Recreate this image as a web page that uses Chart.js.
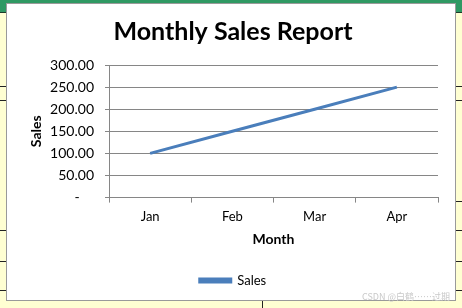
<!DOCTYPE html>
<html><head><meta charset="utf-8">
<script src="https://cdn.jsdelivr.net/npm/chart.js@4"></script>
<style>
html,body{margin:0;padding:0;}
body{width:462px;height:308px;position:relative;overflow:hidden;background:#FFFFD2;}
#green{position:absolute;left:0;top:0;width:462px;height:12px;background:#2F9963;border-bottom:1px solid #1e3b2a;}
.hl{position:absolute;height:1px;background:#222;}
.vl{position:absolute;width:1px;background:#222;}
#box{position:absolute;left:6px;top:3px;width:448px;height:296px;background:#fff;border:1px solid #9a9a9a;}
#c{display:block;}
#wm{position:absolute;left:362px;top:290px;font:9px "Noto Sans CJK SC","Noto Sans",sans-serif;color:#c9c9c9;white-space:nowrap;}
</style></head>
<body>
<div id="green"></div>
<div class="hl" style="left:0;top:86px;width:6px"></div>
<div class="hl" style="left:0;top:100px;width:6px"></div>
<div class="hl" style="left:0;top:230px;width:6px"></div>
<div class="hl" style="left:0;top:261px;width:6px"></div>
<div class="hl" style="left:0;top:290px;width:6px"></div>
<div class="hl" style="left:455px;top:86px;width:7px"></div>
<div class="hl" style="left:455px;top:100px;width:7px"></div>
<div class="hl" style="left:455px;top:201px;width:7px"></div>
<div class="hl" style="left:455px;top:230px;width:7px"></div>
<div class="hl" style="left:455px;top:261px;width:7px"></div>
<div class="hl" style="left:455px;top:290px;width:7px"></div>
<div class="vl" style="left:262px;top:300px;height:8px"></div>
<div id="box"><canvas id="c" width="448" height="296"></canvas></div>
<div id="wm">CSDN @白鹤……过期</div>
<script>
const months = ["Jan","Feb","Mar","Apr"];
const sales = [100,150,200,250];
const yMin = 0, yMax = 300, yStep = 50;

const FONT = "Lato, 'Open Sans', sans-serif";
new Chart(document.getElementById('c'), {
  type: 'line',
  data: {
    labels: months,
    datasets: [{
      label: 'Sales',
      data: sales,
      borderColor: '#4A7EBB',
      backgroundColor: '#4A7EBB',
      borderWidth: 3,
      pointRadius: 0,
      tension: 0
    }]
  },
  options: {
    responsive: false,
    animation: false,
    layout: {padding: {left: 21, right: 17, top: 0, bottom: 3}},
    plugins: {
      title: {
        display: true,
        text: 'Monthly Sales Report',
        color: '#000',
        font: {family: FONT, size: 25, weight: 'bold'},
        padding: {top: 13, bottom: 18}
      },
      legend: {
        position: 'bottom',
        labels: {
          color: '#000',
          font: {family: FONT, size: 13},
          boxWidth: 31,
          boxHeight: 3,
          padding: 10
        }
      },
      tooltip: {enabled: false}
    },
    scales: {
      x: {
        offset: true,
        grid: {offset: true, drawOnChartArea: false, color: '#868686', tickLength: 5},
        border: {color: '#868686'},
        ticks: {color: '#000', font: {family: FONT, size: 13}, padding: 6},
        title: {display: true, text: 'Month', color: '#000', font: {family: FONT, size: 14, weight: 'bold'}, padding: {top: 1, bottom: 16}}
      },
      y: {
        min: yMin, max: yMax,
        grid: {color: '#868686', tickLength: 4},
        border: {color: '#868686'},
        ticks: {
          stepSize: yStep,
          color: '#000',
          font: {family: FONT, size: 14},
          padding: 11,
          callback: v => v === 0 ? '-    ' : v.toFixed(2)
        },
        title: {display: true, text: 'Sales', color: '#000', font: {family: FONT, size: 14, weight: 'bold'}, padding: {top: 0, bottom: 8}},
        afterFit: s => { s.width = 81; }
      }
    }
  }
});
</script>
</body></html>
